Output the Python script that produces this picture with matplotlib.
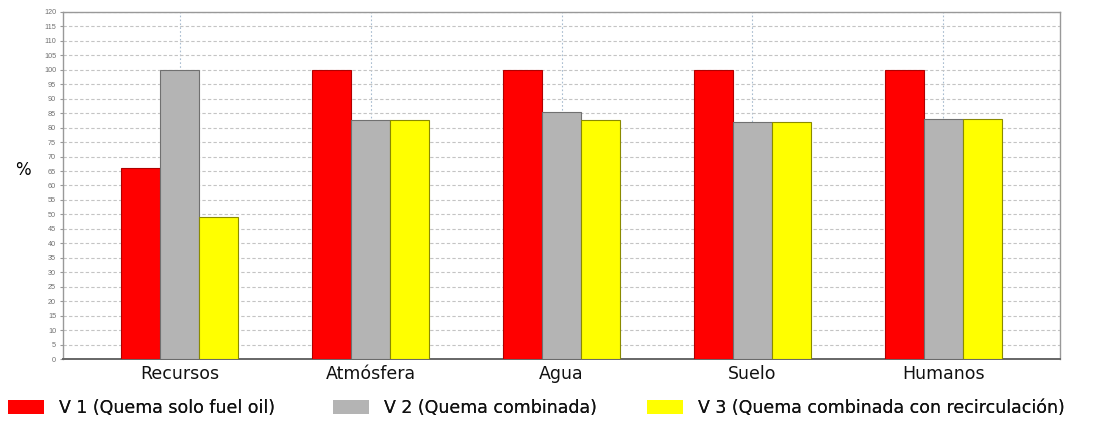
import numpy as np
import matplotlib
matplotlib.use("Agg")
import matplotlib.pyplot as plt

plt.rcParams["font.family"] = ["DejaVu Sans"]

categories = ["Recursos", "Atmósfera", "Agua", "Suelo", "Humanos"]
v1 = [66, 100, 100, 100, 100]
v2 = [100, 82.5, 85.5, 82, 83]
v3 = [49, 82.5, 82.5, 82, 83]
series_labels = [
    "V 1 (Quema solo fuel oil)",
    "V 2 (Quema combinada)",
    "V 3 (Quema combinada con recirculación)",
]
yticks = list(range(0, 125, 5))

W, H = 1108, 423
fig = plt.figure(figsize=(W / 100, H / 100), dpi=100)
ax = fig.add_axes([63 / W, 64 / H, 997 / W, 347 / H])

x = np.arange(len(categories))
w = 0.204
fills = ["#ff0000", "#b4b4b4", "#ffff00"]
edges = ["#b00000", "#707070", "#8a8a00"]
handles = []
for i, (vals, lab) in enumerate(zip([v1, v2, v3], series_labels)):
    b = ax.bar(x + (i - 1) * w, vals, w, color=fills[i], edgecolor=edges[i],
               linewidth=0.8, label=lab, zorder=3)
    handles.append(b)

ax.set_xlim(-0.61, len(categories) - 1 + 0.61)
ax.set_ylim(0, 120)
ax.set_yticks(yticks)
ax.set_yticklabels([str(t) for t in yticks], fontsize=5.2, color="#707070",
                   family="Liberation Sans")
ax.set_xticks(x)
ax.set_xticklabels(categories, fontsize=12.5, color="#111111")
ax.tick_params(axis="x", length=0, pad=4)
ax.tick_params(axis="y", length=2, color="#999999", pad=3)

ax.yaxis.grid(True, linestyle=(0, (3, 2)), color="#c4c4c4", linewidth=0.8, zorder=0)
ax.xaxis.grid(True, linestyle=(0, (1.5, 2)), color="#a8bcd0", linewidth=0.8, zorder=0)
ax.set_axisbelow(True)
for s in ax.spines.values():
    s.set_edgecolor("#999999")
    s.set_linewidth(1.0)
ax.spines["bottom"].set_edgecolor("#666666")
ax.spines["bottom"].set_linewidth(1.4)

fig.text(15 / W, 1 - 170 / H, "%", fontsize=12, va="center")

# legend: one entry per series, placed along the bottom
leg_x = [8, 333, 647]
for hnd, lab, lx in zip(handles, series_labels, leg_x):
    patch = plt.Rectangle((0, 0), 1, 1, facecolor=hnd.patches[0].get_facecolor(),
                          edgecolor="none")
    lg = fig.legend(handles=[patch], labels=[lab], loc="center left",
                    bbox_to_anchor=(lx / W, 1 - 408 / H), frameon=False,
                    fontsize=12.5, handlelength=2.1, handleheight=0.8,
                    handletextpad=0.85, borderpad=0, borderaxespad=0)
    for t in lg.get_texts():
        t.set_color("#111111")
    fig.add_artist(lg)

fig.savefig("out.png", dpi=100, facecolor="white")
